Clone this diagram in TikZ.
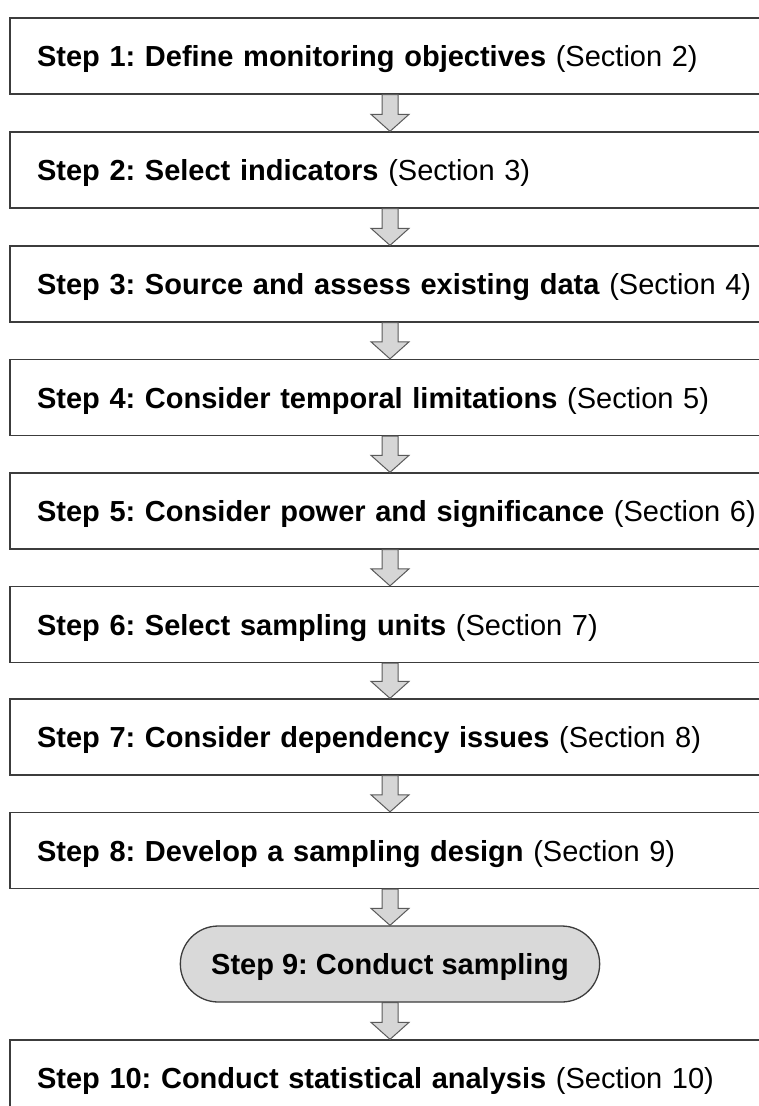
\documentclass[tikz,border=0pt]{standalone}
\usepackage{fontspec}
\setmainfont{Liberation Sans}
\usepackage{xcolor}
\usepackage{tikz}
\usetikzlibrary{calc}
\usetikzlibrary{shapes.misc}
\definecolor{boxline}{HTML}{3C3C3C}
\definecolor{arrowline}{HTML}{5A5A5A}
\definecolor{arrowfill}{HTML}{D6D6D6}
\definecolor{stepfill}{HTML}{D9D9D9}
\frenchspacing
\newcommand{\steptext}[2]{\mbox{\textbf{#1} (#2)}}

\begin{document}
\begin{tikzpicture}[x=1pt,y=1pt,
  stepbox/.style={draw=boxline,line width=1.3pt,fill=white,minimum width=760pt,minimum height=76pt,
    text width=706pt,align=left,inner xsep=26pt,inner ysep=0pt,
    text height=21pt,text depth=0pt,font=\fontsize{29}{34}\selectfont},
  runbox/.style={draw=boxline,line width=1.3pt,fill=stepfill,rounded rectangle,minimum width=426pt,minimum height=76pt,
    inner ysep=0pt,text height=21pt,text depth=0pt,font=\fontsize{29}{34}\selectfont\bfseries},
  fatptr/.style={draw=arrowline,line width=1pt,fill=arrowfill,line join=miter,
    to path={let \p1=(\tikztostart), \p2=(\tikztotarget) in
      (\x1-8pt,\y1) -- (\x2-8pt,\y2+17pt) -- (\x2-19pt,\y2+17pt) -- (\x2,\y2)
      -- (\x2+19pt,\y2+17pt) -- (\x2+8pt,\y2+17pt) -- (\x1+8pt,\y1) -- cycle}}
]
\useasboundingbox (0,0) rectangle (759,-1106);
% Steps 1--8
\node[stepbox] (s1) at (390,-56) {\steptext{Step 1: Define monitoring objectives}{Section 2}};
\node[stepbox] (s2) at (390,-170) {\steptext{Step 2: Select indicators}{Section 3}};
\node[stepbox] (s3) at (390,-284) {\steptext{Step 3: Source and assess existing data}{Section 4}};
\node[stepbox] (s4) at (390,-397.5) {\steptext{Step 4: Consider temporal limitations}{Section 5}};
\node[stepbox] (s5) at (390,-511) {\steptext{Step 5: Consider power and significance}{Section 6}};
\node[stepbox] (s6) at (390,-624.5) {\steptext{Step 6: Select sampling units}{Section 7}};
\node[stepbox] (s7) at (390,-737) {\steptext{Step 7: Consider dependency issues}{Section 8}};
\node[stepbox] (s8) at (390,-850.5) {\steptext{Step 8: Develop a sampling design}{Section 9}};
% Step 9
\node[runbox] (s9) at (390,-964) {Step 9: Conduct sampling};
% Step 10
\node[stepbox] (s10) at (390,-1078) {\steptext{Step 10: Conduct statistical analysis}{Section 10}};

\draw[fatptr] (s1.south) to (s2.north); \draw[fatptr] (s2.south) to (s3.north);
\draw[fatptr] (s3.south) to (s4.north); \draw[fatptr] (s4.south) to (s5.north);
\draw[fatptr] (s5.south) to (s6.north); \draw[fatptr] (s6.south) to (s7.north);
\draw[fatptr] (s7.south) to (s8.north); \draw[fatptr] (s8.south) to (s9.north);
\draw[fatptr] (s9.south) to (s10.north);
\end{tikzpicture}
\end{document}
